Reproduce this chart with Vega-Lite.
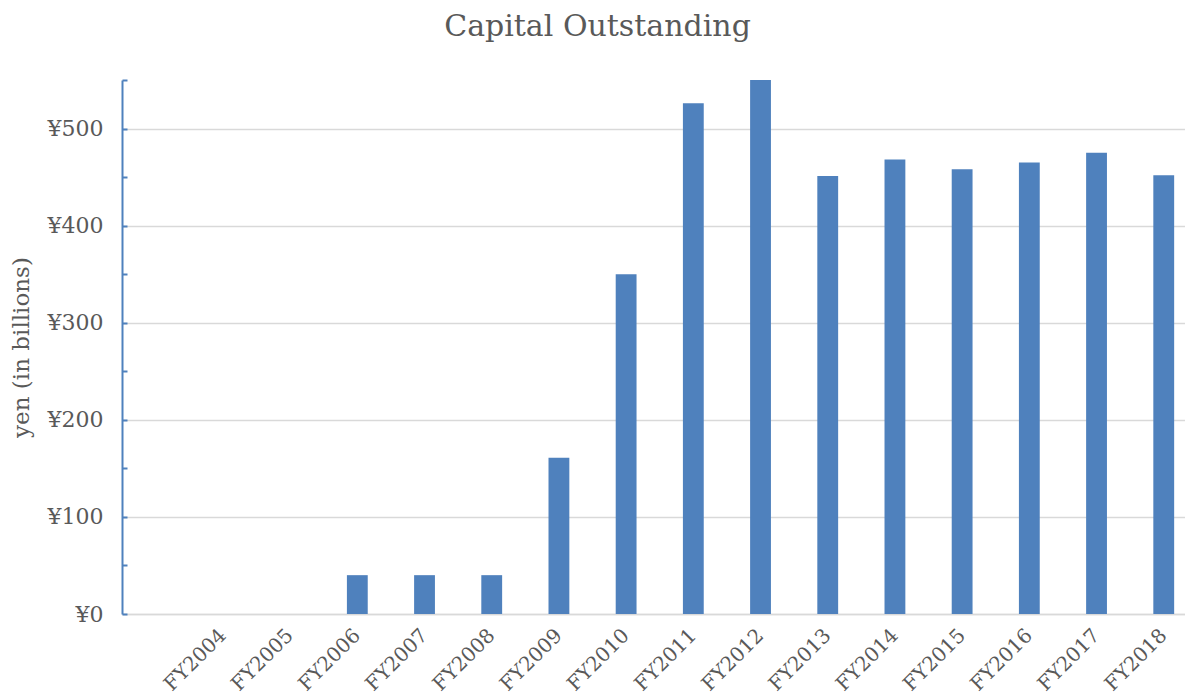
{
  "$schema": "https://vega.github.io/schema/vega-lite/v6.json",
  "autosize": {"type": "none"},
  "padding": {"left": 122, "top": 80, "right": 0, "bottom": 86},
  "width": 1063,
  "height": 534,
  "background": "white",
  "title": {
    "text": "Capital Outstanding",
    "font": "DejaVu Serif",
    "fontSize": 30,
    "fontWeight": "normal",
    "color": "#595959",
    "anchor": "middle",
    "dx": -56,
    "baseline": "alphabetic",
    "offset": 13
  },
  "data": {
    "values": [
      {"year": "FY2004", "capital": 0},
      {"year": "FY2005", "capital": 0},
      {"year": "FY2006", "capital": 40},
      {"year": "FY2007", "capital": 40},
      {"year": "FY2008", "capital": 40},
      {"year": "FY2009", "capital": 161},
      {"year": "FY2010", "capital": 350},
      {"year": "FY2011", "capital": 526},
      {"year": "FY2012", "capital": 550},
      {"year": "FY2013", "capital": 451},
      {"year": "FY2014", "capital": 468},
      {"year": "FY2015", "capital": 458},
      {"year": "FY2016", "capital": 465},
      {"year": "FY2017", "capital": 475},
      {"year": "FY2018", "capital": 452}
    ]
  },
  "mark": {"type": "bar", "color": "#4F81BD"},
  "encoding": {
    "x": {
      "field": "year",
      "type": "nominal",
      "sort": null,
      "scale": {"paddingInner": 0.69, "paddingOuter": 0.754, "align": 0.893},
      "axis": {
        "title": null,
        "labelAngle": -45,
        "labelAlign": "right",
        "labelBaseline": "middle",
        "labelPadding": 18,
        "labelFont": "DejaVu Serif",
        "labelFontSize": 20,
        "labelColor": "#595959",
        "ticks": false,
        "domainColor": "#d9d9d9",
        "domainWidth": 1.5,
        "grid": false
      }
    },
    "y": {
      "field": "capital",
      "type": "quantitative",
      "scale": {"domain": [0, 550], "nice": false},
      "axis": {
        "title": "yen (in billions)",
        "titleFont": "DejaVu Serif",
        "titleFontSize": 23,
        "titleFontWeight": "normal",
        "titleColor": "#595959",
        "titlePadding": 14,
        "values": [0, 50, 100, 150, 200, 250, 300, 350, 400, 450, 500, 550],
        "labelExpr": "datum.value % 100 === 0 ? '¥' + datum.value : ''",
        "labelFont": "DejaVu Serif",
        "labelFontSize": 22,
        "labelColor": "#595959",
        "labelPadding": 24,
        "domainColor": "#4F81BD",
        "domainWidth": 2,
        "tickColor": "#4F81BD",
        "tickWidth": 2,
        "tickSize": -5,
        "grid": true,
        "gridColor": "#d9d9d9",
        "gridWidth": 1.5,
        "gridOpacity": {"condition": {"test": "datum.value % 100 === 0", "value": 1}, "value": 0}
      }
    }
  },
  "config": {"view": {"stroke": null}}
}
